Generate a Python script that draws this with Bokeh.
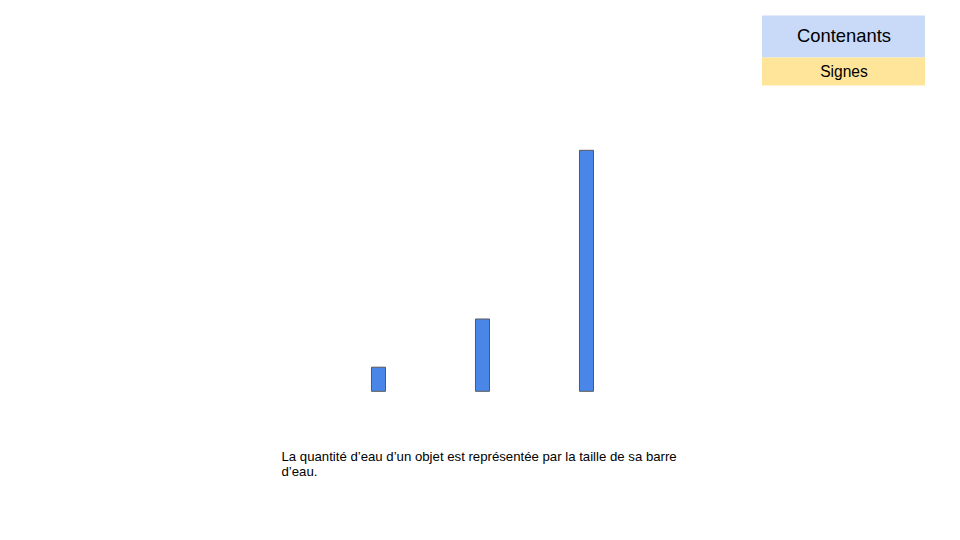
from bokeh.plotting import figure
from bokeh.models import (Range1d, FactorRange, LinearScale,
                          Label, ColumnDataSource, BoxAnnotation)
from bokeh.embed import file_html
from bokeh.resources import INLINE

# ---- data ----
categories = ["Objet 1", "Objet 2", "Objet 3"]
water = [1, 3, 10]
legend_labels = ["Contenants", "Signes"]
legend_colors = ["#c9daf8", "#ffe599"]
caption_lines = [
    "La quantité d\u2019eau d\u2019un objet est représentée par la taille de sa barre",
    "d\u2019eau.",
]

FONT = "Liberation Sans"
W, H = 944, 524
LEFT = 20            # frame left border (px)
FW = W - LEFT        # frame width

# categorical x scale spread over the frame
step_px = 104.0
pad = (FW / step_px - len(categories)) / 2
x_range = FactorRange(factors=categories, range_padding=pad,
                      range_padding_units="absolute")


def sx(px):
    """page-pixel x -> synthetic categorical coordinate"""
    return (px - LEFT) / step_px - pad


p = figure(width=W, height=H, output_backend="svg", toolbar_location=None,
           x_range=x_range, y_range=Range1d(H, 0),
           x_axis_location=None, y_axis_location=None,
           min_border=0, min_border_left=LEFT, outline_line_color=None,
           background_fill_color="white", border_fill_color="white")
p.grid.visible = False

# value scale for the water bars
px_per_unit = 24.1
base_px = 390.8
p.extra_y_ranges = {"eau": Range1d(-(H - base_px) / px_per_unit,
                                   base_px / px_per_unit)}
p.extra_y_scales = {"eau": LinearScale()}

src = ColumnDataSource(dict(cat=categories, val=water))
p.vbar(x="cat", top="val", bottom=0, width=0.135, source=src,
       y_range_name="eau",
       fill_color="#4a86e8", line_color="#595959", line_width=1)

# legend-like boxes (top right)
box_edges = [(15, 57), (57, 85)]
text_base = [41.5 - 6.5, 75.8 - 5.0]
text_sizes = ["18.4px", "15.6px"]
for lab, col, (t, b), yb, fs in zip(legend_labels, legend_colors, box_edges, text_base, text_sizes):
    p.add_layout(BoxAnnotation(left=sx(761.5), right=sx(924.5), top=t, bottom=b,
                               fill_color=col, fill_alpha=1, line_color=None,
                               level="underlay"))
    p.add_layout(Label(x=sx(843.5), y=yb, text=lab, text_align="center",
                       text_baseline="alphabetic", text_font=FONT,
                       text_font_size=fs, text_color="black"))

# caption
for i, line in enumerate(caption_lines):
    p.add_layout(Label(x=sx(281), y=455.5 + 15.5 * i, text=line, text_align="left",
                       text_baseline="alphabetic", text_font=FONT,
                       text_font_size="13.2px", text_color="black"))

open("out.html", "w").write(file_html(p, INLINE, title="Chart"))
